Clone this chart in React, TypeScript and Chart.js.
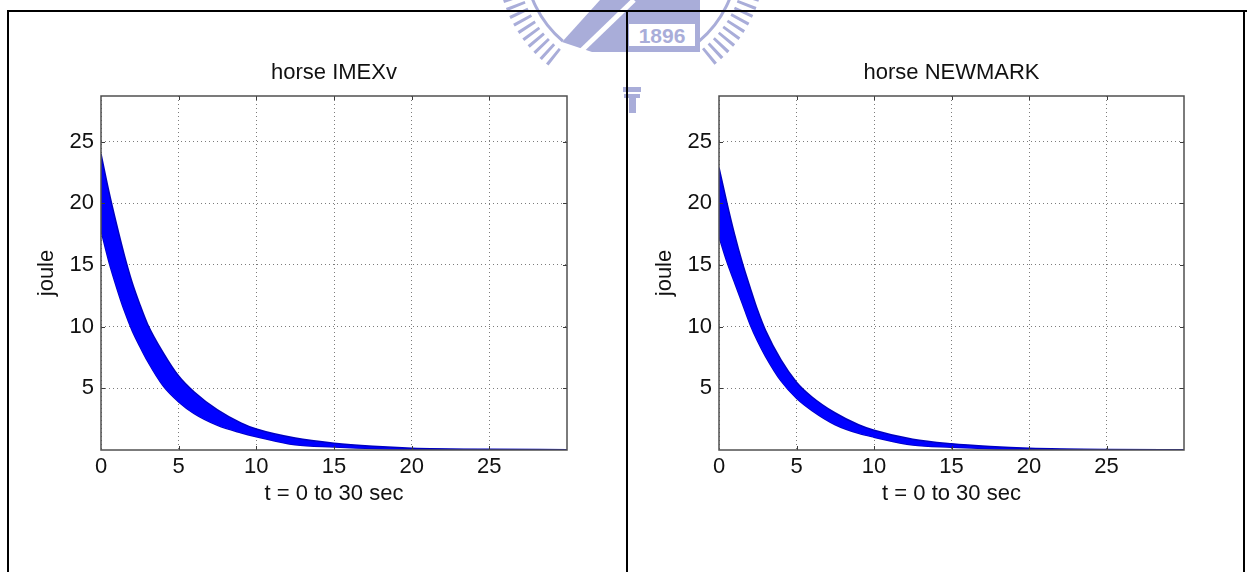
import React, { useEffect, useRef } from 'react';
import { Chart, registerables } from 'chart.js';

Chart.register(...registerables);

// ---- data (envelope of the oscillating energy band) ----
const TIME = [0, 0.5, 1, 1.5, 2, 2.5, 3, 4, 5, 6, 7.5, 9, 10, 12.5, 15, 17.5, 20, 25, 30];

const IMEX_UPPER = [24.0, 21.0, 18.3, 15.8, 13.6, 11.8, 10.2, 7.9, 6.0, 4.7, 3.25, 2.2, 1.7, 0.97, 0.55, 0.3, 0.15, 0.06, 0.03];
const IMEX_LOWER = [17.8, 15.3, 13.2, 11.3, 9.7, 8.4, 7.2, 5.2, 3.9, 2.95, 2.0, 1.4, 1.08, 0.42, 0.25, 0.12, 0.06, 0.02, 0.01];

const NEWMARK_UPPER = [22.9, 20.1, 17.5, 15.2, 13.2, 11.3, 9.7, 7.3, 5.5, 4.3, 3.0, 2.05, 1.6, 0.87, 0.5, 0.28, 0.14, 0.04, 0.02];
const NEWMARK_LOWER = [17.3, 15.3, 13.6, 11.9, 10.2, 8.8, 7.6, 5.6, 4.2, 3.2, 2.05, 1.35, 1.04, 0.4, 0.22, 0.1, 0.05, 0.02, 0.01];

const X_TICKS = [0, 5, 10, 15, 20, 25];
const Y_TICKS = [5, 10, 15, 20, 25];
const X_MIN = 0;
const X_MAX = 30;
const Y_MIN = 0;
const Y_MAX = 28.7;

const TITLE_LEFT = 'horse IMEXv';
const TITLE_RIGHT = 'horse NEWMARK';
const X_LABEL = 't = 0 to 30 sec';
const Y_LABEL = 'joule';

// ---- styling / geometry ----
const FONT = 'Arial, "Liberation Sans", Helvetica, sans-serif';
const FS = 22;
const LH = FS * 1.2;
const CANVAS_H = 572;
const PLOT_TOP = 96;
const PLOT_BOTTOM = 450;
const X_TITLE_CENTER_Y = 494;
const X_AXIS_H = X_TITLE_CENTER_Y + LH / 2 - PLOT_BOTTOM;
const TITLE_CENTER_Y = 73;

const framePlugin = {
  id: 'matlabFrame',
  afterDatasetsDraw(chart: any) {
    const { ctx, chartArea } = chart;
    const { left, right, top, bottom } = chartArea;
    const xs = chart.scales.x;
    const ys = chart.scales.y;
    ctx.save();
    ctx.strokeStyle = '#3a3a3a';
    ctx.lineWidth = 1;
    ctx.beginPath();
    X_TICKS.forEach((v) => {
      if (v === X_MIN) return;
      const px = Math.round(xs.getPixelForValue(v)) + 0.5;
      ctx.moveTo(px, bottom);
      ctx.lineTo(px, bottom - 4);
      ctx.moveTo(px, top);
      ctx.lineTo(px, top + 4);
    });
    Y_TICKS.forEach((v) => {
      const py = Math.round(ys.getPixelForValue(v)) + 0.5;
      ctx.moveTo(left, py);
      ctx.lineTo(left + 4, py);
      ctx.moveTo(right, py);
      ctx.lineTo(right - 4, py);
    });
    ctx.stroke();
    ctx.strokeStyle = '#505050';
    ctx.lineWidth = 1.5;
    ctx.strokeRect(left, top, right - left, bottom - top);
    ctx.restore();
  },
};

type PanelProps = {
  title: string;
  t: number[];
  upper: number[];
  lower: number[];
  canvasLeft: number;
  canvasWidth: number;
  plotLeft: number; // in canvas coords
  plotRight: number; // in canvas coords
  yTitleCenter: number; // in canvas coords
};

function Panel(props: PanelProps) {
  const ref = useRef<HTMLCanvasElement | null>(null);
  useEffect(() => {
    if (!ref.current) return;
    const padLeft = props.yTitleCenter - LH / 2;
    const padRight = props.canvasWidth - props.plotRight;
    const padTop = TITLE_CENTER_Y - LH / 2;
    const titlePadBottom = PLOT_TOP - padTop - LH;
    const padBottom = CANVAS_H - PLOT_BOTTOM - X_AXIS_H;
    const font = { family: FONT, size: FS, weight: 'normal' as const };
    const chart = new Chart(ref.current, {
      type: 'line',
      data: {
        datasets: [
          {
            data: props.t.map((x, i) => ({ x, y: props.upper[i] })),
            borderColor: '#0000c0',
            backgroundColor: '#0000ff',
            borderWidth: 1.5,
            pointRadius: 0,
            fill: '+1',
            cubicInterpolationMode: 'monotone',
          },
          {
            data: props.t.map((x, i) => ({ x, y: props.lower[i] })),
            borderColor: '#0000c0',
            backgroundColor: '#0000ff',
            borderWidth: 1.5,
            pointRadius: 0,
            fill: false,
            cubicInterpolationMode: 'monotone',
          },
        ],
      },
      options: {
        animation: false,
        responsive: false,
        maintainAspectRatio: false,
        layout: { padding: { left: padLeft, right: padRight, top: padTop, bottom: padBottom } },
        plugins: {
          legend: { display: false },
          tooltip: { enabled: false },
          title: {
            display: true,
            text: props.title,
            fullSize: false,
            color: '#111',
            font,
            padding: { top: 0, bottom: titlePadBottom },
          },
        },
        scales: {
          x: {
            type: 'linear',
            min: X_MIN,
            max: X_MAX,
            afterBuildTicks: (s: any) => {
              s.ticks = X_TICKS.map((v) => ({ value: v }));
            },
            afterFit: (s: any) => {
              s.height = X_AXIS_H;
            },
            ticks: {
              color: '#111',
              font,
              padding: 4,
              maxRotation: 0,
              autoSkip: false,
              callback: (v: any) => String(v),
            },
            grid: { color: '#7c7c7c', lineWidth: 1, drawTicks: false },
            border: { display: false, dash: [1, 3] },
            title: { display: true, text: X_LABEL, color: '#111', font, padding: 0 },
          },
          y: {
            type: 'linear',
            min: Y_MIN,
            max: Y_MAX,
            afterBuildTicks: (s: any) => {
              s.ticks = Y_TICKS.map((v) => ({ value: v }));
            },
            afterFit: (s: any) => {
              s.width = props.plotLeft - padLeft;
            },
            ticks: {
              color: '#111',
              font,
              padding: 7,
              autoSkip: false,
              callback: (v: any) => String(v),
            },
            grid: { color: '#7c7c7c', lineWidth: 1, drawTicks: false },
            border: { display: false, dash: [1, 3] },
            title: { display: true, text: Y_LABEL, color: '#111', font, padding: 0 },
          },
        },
      } as any,
      plugins: [framePlugin],
    });
    return () => chart.destroy();
  }, []);
  return (
    <canvas
      ref={ref}
      width={props.canvasWidth}
      height={CANVAS_H}
      style={{ position: 'absolute', left: props.canvasLeft, top: 0, width: props.canvasWidth, height: CANVAS_H }}
    />
  );
}

function Logo() {
  const c = '#a9add9';
  const cx = 631;
  const cy = -40;
  const arc = (r: number, a0: number, a1: number) => {
    const p = (a: number) => [cx + r * Math.cos((a * Math.PI) / 180), cy + r * Math.sin((a * Math.PI) / 180)];
    const [x0, y0] = p(a0);
    const [x1, y1] = p(a1);
    return `M ${x0} ${y0} A ${r} ${r} 0 0 1 ${x1} ${y1}`;
  };
  return (
    <svg width={1249} height={572} style={{ position: 'absolute', left: 0, top: 0 }}>
      <path d={arc(124, 128, 178)} stroke={c} strokeWidth={20} fill="none" strokeDasharray="3 5" />
      <path d={arc(124, 2, 52)} stroke={c} strokeWidth={20} fill="none" strokeDasharray="3 5" />
      <path d={arc(106, 130, 178)} stroke={c} strokeWidth={3} fill="none" />
      <path d={arc(106, 2, 50)} stroke={c} strokeWidth={3} fill="none" />
      <polygon points="562,42 600,0 700,0 700,52 592,52" fill={c} />
      <line x1={580} y1={52} x2={634} y2={0} stroke="#fff" strokeWidth={5} />
      <rect x={629} y={24} width={66} height={22} fill="#fff" />
      <text x={662} y={43} fill={c} fontFamily={FONT} fontWeight="bold" fontSize={21} textAnchor="middle">
        1896
      </text>
      <rect x={623} y={87} width={18} height={5} fill={c} />
      <rect x={624} y={94} width={16} height={4} fill={c} />
      <rect x={629} y={98} width={7} height={15} fill={c} />
    </svg>
  );
}

export default function App() {
  const line = (style: React.CSSProperties) => (
    <div style={{ position: 'absolute', background: '#000', ...style }} />
  );
  return (
    <div
      style={{
        position: 'fixed',
        left: 0,
        top: 0,
        width: 1249,
        height: 572,
        background: '#fff',
        overflow: 'hidden',
      }}
    >
      <Logo />
      {line({ left: 7, top: 10, width: 1240, height: 2 })}
      {line({ left: 7, top: 10, width: 2, height: 562 })}
      {line({ left: 626, top: 10, width: 2, height: 562 })}
      {line({ left: 1243, top: 10, width: 2, height: 562 })}
      <Panel
        title={TITLE_LEFT}
        t={TIME}
        upper={IMEX_UPPER}
        lower={IMEX_LOWER}
        canvasLeft={0}
        canvasWidth={627}
        plotLeft={101}
        plotRight={567}
        yTitleCenter={47}
      />
      <Panel
        title={TITLE_RIGHT}
        t={TIME}
        upper={NEWMARK_UPPER}
        lower={NEWMARK_LOWER}
        canvasLeft={627}
        canvasWidth={622}
        plotLeft={92}
        plotRight={557}
        yTitleCenter={38}
      />
    </div>
  );
}
